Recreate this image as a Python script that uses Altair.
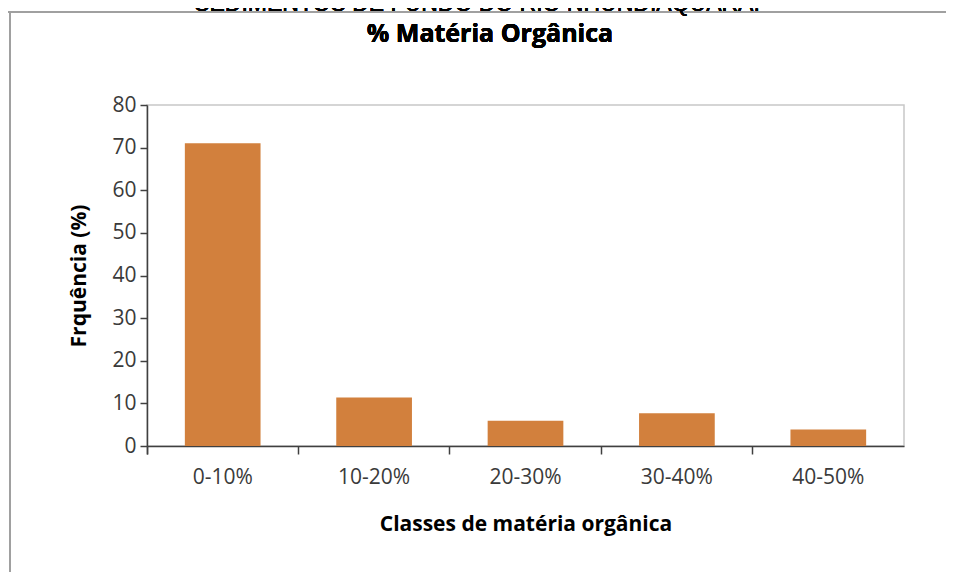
import altair as alt
import pandas as pd

categories = ["0-10%", "10-20%", "20-30%", "30-40%", "40-50%"]
values = [71.0, 11.4, 5.9, 7.7, 3.9]
y_ticks = [0, 10, 20, 30, 40, 50, 60, 70, 80]

chart_title = "% Matéria Orgânica"
header_text = "SEDIMENTOS DE FUNDO DO RIO NHUNDIAQUARA."
x_title = "Classes de matéria orgânica"
y_title = "Frquência (%)"

df = pd.DataFrame({"classe": categories, "freq": values})

FONT = "Open Sans"
AXIS_COLOR = "#404040"
W, H = 757, 341

bars = alt.Chart(df).mark_bar(color="#D2803D", width=alt.RelativeBandSize(0.5)).encode(
    x=alt.X(
        "classe:N",
        sort=categories,
        scale=alt.Scale(paddingInner=0, paddingOuter=0),
        axis=alt.Axis(
            title=x_title,
            labelAngle=0,
            bandPosition=0,
            tickExtra=True,
            tickSize=8,
            labelPadding=12,
            titlePadding=26,
        ),
    ),
    y=alt.Y(
        "freq:Q",
        scale=alt.Scale(domain=[0, 80], nice=False),
        axis=alt.Axis(
            title=y_title,
            values=y_ticks,
            grid=False,
            tickSize=7,
            labelPadding=4,
            titlePadding=22,
        ),
    ),
)

frame_h = alt.Chart(df).mark_rule(color="#a0a0a0", strokeWidth=2).encode(
    x=alt.value(-142), x2=alt.value(W + 42), y=alt.value(-93)
)
frame_v = alt.Chart(df).mark_rule(color="#a0a0a0", strokeWidth=2).encode(
    x=alt.value(-137), y=alt.value(-93), y2=alt.value(H + 126)
)
header = alt.Chart(df).mark_text(
    font="Liberation Sans", fontSize=23, baseline="alphabetic", align="center", color="#000000"
).encode(x=alt.value(330), y=alt.value(-94), text=alt.value(header_text))

title = alt.Chart(df).mark_text(
    font=FONT, fontSize=25, fontWeight="bold", baseline="alphabetic", align="center", color="#000000"
).encode(x=alt.value(343), y=alt.value(-63), text=alt.value(chart_title))

chart = alt.layer(bars, frame_h, frame_v, header, title).properties(
    width=W,
    height=H,
    autosize=alt.AutoSizeParams(type="none"),
    padding={"left": 139, "top": 97, "right": 42, "bottom": 126},
).configure_view(
    stroke="#c8c8c8", strokeWidth=1.5
).configure_axis(
    domainColor=AXIS_COLOR,
    domainWidth=1.5,
    tickColor=AXIS_COLOR,
    tickWidth=1.5,
    labelFont=FONT,
    labelFontSize=21,
    labelColor="#3a3a3a",
    titleFont=FONT,
    titleFontSize=21,
    titleFontWeight="bold",
    titleColor="#000000",
)

chart.save("out.html", embed_options={"renderer": "svg", "actions": False})
